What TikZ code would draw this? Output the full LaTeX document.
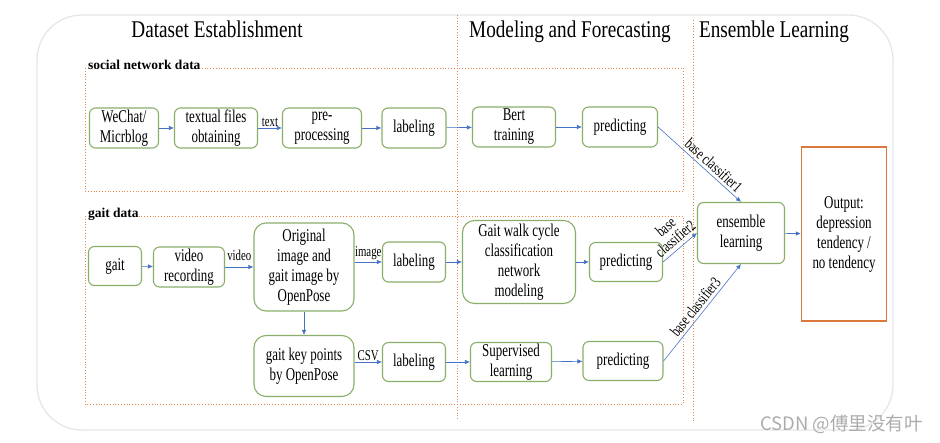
\documentclass[tikz,border=0pt]{standalone}
\usepackage{fontspec}
\setmainfont{Liberation Serif}
\newfontfamily\boxfont[FakeStretch=0.72]{Liberation Serif}
\newfontfamily\titlefont[FakeStretch=0.8]{Liberation Serif}
\newfontfamily\cjkfont{Noto Sans CJK SC}
\usetikzlibrary{arrows.meta}
\definecolor{boxgreen}{HTML}{8AAE6A}
\definecolor{arrowblue}{HTML}{4472C4}
\definecolor{dotorange}{HTML}{E8894A}
\definecolor{outorange}{HTML}{D9793A}
\definecolor{outergray}{HTML}{E6E6E6}
\begin{document}
\begin{tikzpicture}[x=1pt,y=-1pt,
  stepbox/.style={draw=boxgreen, line width=1.1pt, rounded corners=6pt, fill=white, align=center,
    font=\boxfont\fontsize{18}{20}\selectfont, inner sep=0pt},
  bigbox/.style={stepbox, rounded corners=12pt},
  conn/.style={draw=arrowblue, line width=0.6pt, -{Latex[length=5pt,width=4.5pt]}},
  lbl/.style={font=\boxfont\fontsize{15}{15}\selectfont, inner sep=1pt, text=black},
  cls/.style={font=\boxfont\fontsize{16}{15}\selectfont, inner sep=1pt, text=black, align=center},
  title/.style={font=\titlefont\fontsize{24}{24}\selectfont, anchor=base, inner sep=0pt},
  grouplabel/.style={font=\bfseries\fontsize{13.5}{14}\selectfont, anchor=base west, fill=white, inner sep=0.8pt},
  groupframe/.style={draw=dotorange, dotted, line width=0.8pt},
  sep/.style={draw=dotorange, dotted, line width=0.8pt}
]
\useasboundingbox (0,0) rectangle (940,443);
% outer frame
\draw[outergray, line width=1.3pt, rounded corners=45pt] (37,15) rectangle (893,430);
% separators
\draw[sep] (457,15) -- (457,420);
\draw[sep] (693,20) -- (693,422);
% titles
\node[title] (t1) at (217,38) {Dataset Establishment};
\node[title] (t2) at (570,38) {Modeling and Forecasting};
\node[title] (t3) at (774,38) {Ensemble Learning};
% group frames
\draw[groupframe] (85,68) rectangle (683,191);
\draw[groupframe] (85,216) rectangle (683,404);
\node[grouplabel] (snd) at (87,70) {social network data};
\node[grouplabel] (gd) at (87,218) {gait data};
% social row
\node[stepbox, minimum width=69pt, minimum height=40pt] (wechat) at (124,128) {WeChat/\\Micrblog};
\node[stepbox, minimum width=83pt, minimum height=40pt] (textual) at (216,128) {textual files\\obtaining};
\node[stepbox, minimum width=79pt, minimum height=40pt] (prep) at (322,128) {pre-\\processing};
\node[stepbox, minimum width=64pt, minimum height=40pt] (lab1) at (414,128) {labeling};
\node[stepbox, minimum width=83pt, minimum height=40pt] (bert) at (514,127) {Bert\\training};
\node[stepbox, minimum width=75pt, minimum height=40pt] (pred1) at (620,127) {predicting};
% gait row 1
\node[stepbox, minimum width=53pt, minimum height=39pt] (gait) at (115,266) {gait};
\node[stepbox, minimum width=71pt, minimum height=40pt] (video) at (189,267) {video\\recording};
\node[bigbox, minimum width=100pt, minimum height=88pt] (orig) at (304,267) {Original\\image and\\gait image by\\OpenPose};
\node[stepbox, minimum width=63pt, minimum height=40pt] (lab2) at (414,262) {labeling};
\node[bigbox, minimum width=113pt, minimum height=83pt] (walk) at (519,262) {Gait walk cycle\\classification\\network\\modeling};
\node[stepbox, minimum width=73pt, minimum height=39pt] (pred2) at (626,262) {predicting};
% gait row 2
\node[bigbox, minimum width=100pt, minimum height=61pt] (keypts) at (304,366) {gait key points\\by OpenPose};
\node[stepbox, minimum width=63pt, minimum height=39pt] (lab3) at (414,362) {labeling};
\node[stepbox, minimum width=81pt, minimum height=39pt] (sup) at (511,362) {Supervised\\learning};
\node[stepbox, minimum width=80pt, minimum height=39pt] (pred3) at (623,361) {predicting};
% ensemble and output
\node[stepbox, minimum width=87pt, minimum height=61pt] (ens) at (741,233) {ensemble\\learning};
\node[draw=outorange, line width=1.3pt, minimum width=85pt, minimum height=174pt, align=center,
  font=\boxfont\fontsize{18}{20}\selectfont, inner sep=0pt] (out) at (844,234) {Output:\\depression\\tendency /\\no tendency};
% connectors social
\draw[conn] (wechat) -- (textual);
\draw[conn] (textual) -- node[lbl, above] {text} (prep);
\draw[conn] (prep) -- (lab1);
\draw[conn] (lab1) -- (bert);
\draw[conn] (bert) -- (pred1);
\draw[conn] (pred1.east) -- node[cls, sloped, above=2pt, pos=0.6] {base classifier1} (ens.north);
% connectors gait
\draw[conn] (gait) -- (video);
\draw[conn] (video) -- node[lbl, above=5pt] {video} (orig);
\draw[conn] (orig.east |- lab2) -- node[lbl, above=1pt] {image} (lab2);
\draw[conn] (orig) -- (keypts);
\draw[conn] (keypts.east |- lab3) -- node[lbl, above] {CSV} (lab3);
\draw[conn] (lab2) -- (walk);
\draw[conn] (walk) -- (pred2);
\draw[conn] (lab3) -- (sup);
\draw[conn] (sup) -- (pred3);
\draw[conn] (pred2.east) -- node[cls, sloped, above=3pt, pos=0.55] {base\\classifier2} (ens.west);
\draw[conn] (pred3.east) -- node[cls, sloped, above=2pt, pos=0.5] {base classifier3} (ens.south);
\draw[conn] (ens) -- (out);
% watermark
\node[font=\cjkfont\fontsize{18.5}{18.5}\selectfont, text=gray!65, anchor=east, inner sep=0pt] (wm) at (923,424) {CSDN @傅里没有叶};
\end{tikzpicture}
\end{document}
